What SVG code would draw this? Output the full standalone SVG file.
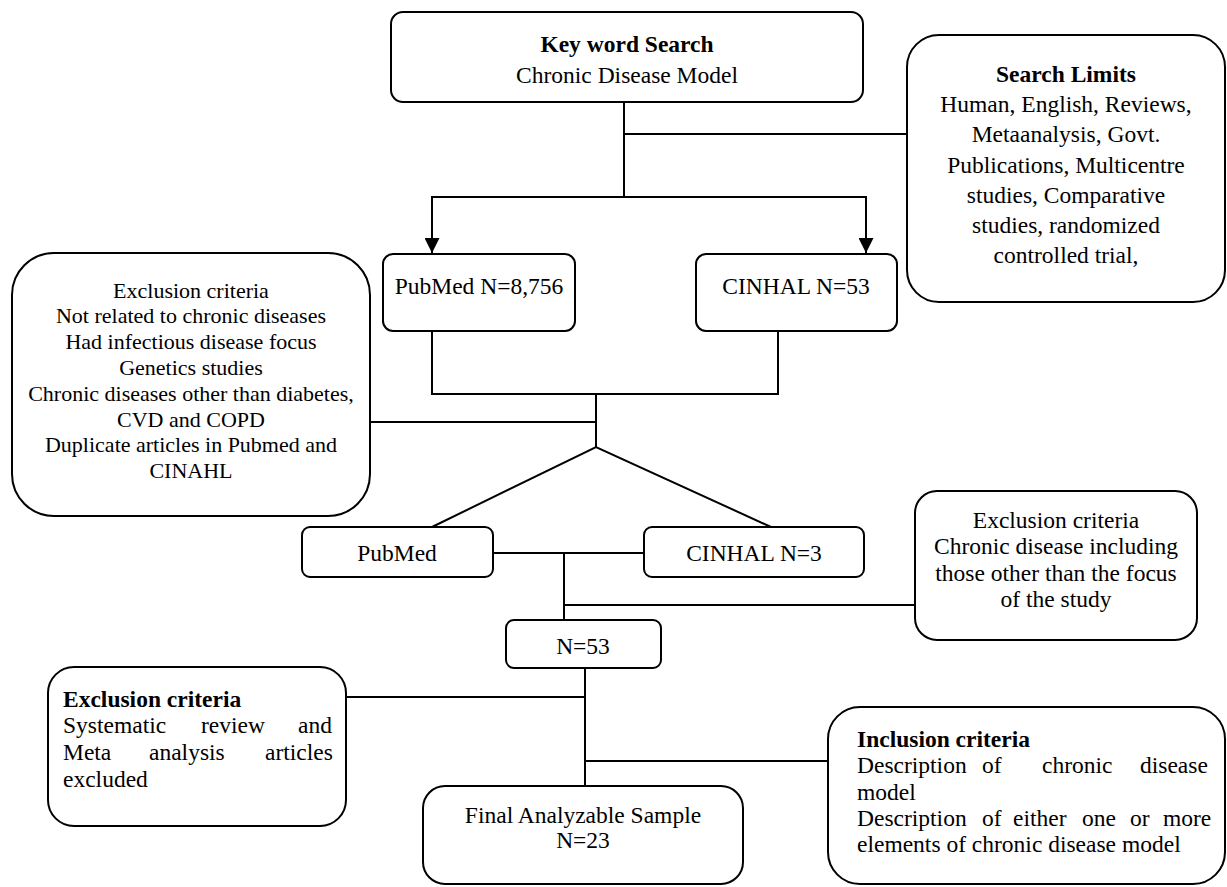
<svg xmlns="http://www.w3.org/2000/svg" width="1227" height="887" viewBox="0 0 1227 887">
<style>
.box{fill:#fff;stroke:#000;stroke-width:2}
.ln{fill:none;stroke:#000;stroke-width:2}
text{font-family:"Liberation Serif","Times New Roman",serif;font-size:23.5px;fill:#000}
.c{text-anchor:middle}
.b{font-weight:bold}
.s{font-size:22px}
</style>
<defs>
<marker id="arr" viewBox="0 0 10 10" refX="10" refY="5" markerUnits="userSpaceOnUse" markerWidth="15" markerHeight="15" orient="auto">
<path d="M0,0 L10,5 L0,10 z" fill="#000"/>
</marker>
</defs>
<rect width="1227" height="887" fill="#fff"/>
<g id="connectors">
<path class="ln" d="M624,102 V197"/>
<path class="ln" d="M624,134 H907"/>
<path class="ln" d="M624,197 H432 V253" marker-end="url(#arr)"/>
<path class="ln" d="M624,197 H866 V253" marker-end="url(#arr)"/>
<path class="ln" d="M432,331 V394 H778 V331"/>
<path class="ln" d="M596,394 V447"/>
<path class="ln" d="M370,422 H596"/>
<path class="ln" d="M432,527 L596,447 L771,527"/>
<path class="ln" d="M493,553 H644"/>
<path class="ln" d="M564,553 V620"/>
<path class="ln" d="M564,605 H915"/>
<path class="ln" d="M585,668 V786"/>
<path class="ln" d="M346,697 H585"/>
<path class="ln" d="M585,761 H828"/>
</g>
<g id="keyword">
<rect class="box" x="391" y="12" width="472" height="90" rx="12"/>
<text class="c b" x="627" y="52">Key word Search</text>
<text class="c" x="627" y="83">Chronic Disease Model</text>
</g>
<g id="searchlimits">
<rect class="box" x="907" y="35" width="318" height="267" rx="32"/>
<text class="c" x="1066"><tspan class="b" x="1066" y="82">Search Limits</tspan><tspan x="1066" y="112">Human, English, Reviews,</tspan><tspan x="1066" y="142">Metaanalysis, Govt.</tspan><tspan x="1066" y="173">Publications, Multicentre</tspan><tspan x="1066" y="203">studies, Comparative</tspan><tspan x="1066" y="233">studies, randomized</tspan><tspan x="1066" y="263">controlled trial,</tspan></text>
</g>
<g id="pubmed1">
<rect class="box" x="383" y="254" width="192" height="77" rx="10"/>
<text class="c" x="479" y="294">PubMed N=8,756</text>
</g>
<g id="cinhal1">
<rect class="box" x="696" y="254" width="201" height="77" rx="10"/>
<text class="c" x="796" y="294">CINHAL N=53</text>
</g>
<g id="exclusion1">
<rect class="box" x="12" y="253" width="358" height="263" rx="42"/>
<text class="c s"><tspan x="191" y="298">Exclusion criteria</tspan><tspan x="191" y="323">Not related to chronic diseases</tspan><tspan x="191" y="349">Had infectious disease focus</tspan><tspan x="191" y="375">Genetics studies</tspan><tspan x="191" y="401">Chronic diseases other than diabetes,</tspan><tspan x="191" y="427">CVD and COPD</tspan><tspan x="191" y="452">Duplicate articles in Pubmed and</tspan><tspan x="191" y="478">CINAHL</tspan></text>
</g>
<g id="pubmed2">
<rect class="box" x="302" y="527" width="191" height="50" rx="8"/>
<text class="c" x="397" y="561">PubMed</text>
</g>
<g id="cinhal2">
<rect class="box" x="644" y="527" width="220" height="50" rx="8"/>
<text class="c" x="754" y="561">CINHAL N=3</text>
</g>
<g id="exclusion2">
<rect class="box" x="915" y="491" width="282" height="149" rx="22"/>
<text class="c"><tspan x="1056" y="528">Exclusion criteria</tspan><tspan x="1056" y="554">Chronic disease including</tspan><tspan x="1056" y="581">those other than the focus</tspan><tspan x="1056" y="607">of the study</tspan></text>
</g>
<g id="n53">
<rect class="box" x="506" y="620" width="155" height="48" rx="8"/>
<text class="c" x="583" y="654">N=53</text>
</g>
<g id="exclusion3">
<rect class="box" x="48" y="667" width="298" height="159" rx="26"/>
<text class="b" x="63" y="707">Exclusion criteria</text>
<text y="733"><tspan x="63">Systematic</tspan><tspan x="201">review</tspan><tspan x="298">and</tspan></text>
<text y="760"><tspan x="63">Meta</tspan><tspan x="149">analysis</tspan><tspan x="265">articles</tspan></text>
<text x="63" y="787">excluded</text>
</g>
<g id="final">
<rect class="box" x="423" y="786" width="320" height="98" rx="22"/>
<text class="c"><tspan x="583" y="823">Final Analyzable Sample</tspan><tspan x="583" y="848">N=23</tspan></text>
</g>
<g id="inclusion">
<rect class="box" x="828" y="707" width="397" height="177" rx="32"/>
<text class="b" x="857" y="747">Inclusion criteria</text>
<text y="773"><tspan x="857">Description</tspan><tspan x="982">of</tspan><tspan x="1042">chronic</tspan><tspan x="1140">disease</tspan></text>
<text x="857" y="800">model</text>
<text y="826"><tspan x="857">Description</tspan><tspan x="982">of</tspan><tspan x="1013">either</tspan><tspan x="1082">one</tspan><tspan x="1130">or</tspan><tspan x="1163">more</tspan></text>
<text x="857" y="852">elements of chronic disease model</text>
</g>
</svg>
